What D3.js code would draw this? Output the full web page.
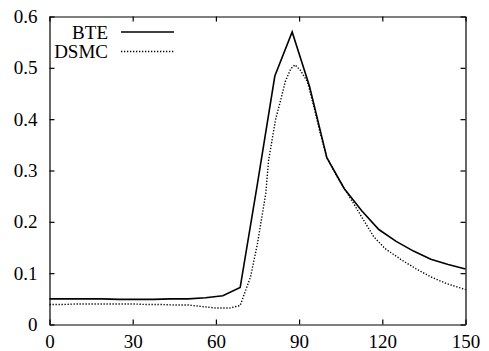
<!DOCTYPE html>
<html>
<head>
<meta charset="utf-8">
<script src="https://cdn.jsdelivr.net/npm/d3@7"></script>
</head>
<body style="margin:0">
<svg width="489" height="351"></svg>
<script>
// BTE: coarse grid, every 6.25
const bteX = [0, 6.25, 12.5, 18.75, 25, 31.25, 37.5, 43.75, 50, 56.25, 62.5, 68.75, 75,
  81.25, 87.5, 93.75, 100, 106.25, 112.5, 118.75, 125, 131.25, 137.5, 143.75, 150]
const bteY = [0.050, 0.050, 0.050, 0.050, 0.049, 0.049, 0.049, 0.050, 0.050, 0.052, 0.056, 0.072, 0.275,
  0.484, 0.570, 0.464, 0.325, 0.265, 0.222, 0.185, 0.162, 0.143, 0.127, 0.117, 0.108]

// DSMC: finer sampling
const dsmcX = [0, 5, 10, 15, 20, 25, 30, 35, 40, 45, 50, 55, 60, 65, 68.75, 72.5, 75, 78, 79,
  81.5, 83.5, 85, 87, 88.5, 90.5, 93, 95.3, 97.5, 100, 104, 108.5, 112.5, 116.9, 121, 126.6,
  132, 137.4, 143, 150]
const dsmcY = [0.039, 0.039, 0.040, 0.040, 0.040, 0.040, 0.040, 0.039, 0.039, 0.038, 0.038, 0.035, 0.032, 0.032, 0.037, 0.093, 0.158, 0.256, 0.32,
  0.399, 0.44, 0.473, 0.498, 0.506, 0.495, 0.473, 0.425, 0.375, 0.325, 0.285, 0.246, 0.21, 0.171, 0.148, 0.127,
  0.109, 0.093, 0.08, 0.068]

const xTicks = [0, 30, 60, 90, 120, 150]
const yTicks = [0, 0.1, 0.2, 0.3, 0.4, 0.5, 0.6]
const seriesNames = ["BTE", "DSMC"]

const margin = {top: 16.5, right: 24, bottom: 26.5, left: 49}
const W = 489 - margin.left - margin.right
const H = 351 - margin.top - margin.bottom

const svg = d3.select("svg")
const g = svg.append("g").attr("transform", `translate(${margin.left + 0.5},${margin.top})`)

const x = d3.scaleLinear().domain([0, 150]).range([0, W])
const y = d3.scaleLinear().domain([0, 0.6]).range([H, 0])

const fmtY = d => d === 0 ? "0" : d3.format(".1f")(d)

// axes, gnuplot style: inward ticks mirrored on all sides
g.append("g").attr("transform", `translate(0,${H})`)
  .call(d3.axisBottom(x).tickValues(xTicks).tickSizeInner(-5).tickSizeOuter(0).tickPadding(10))
g.append("g")
  .call(d3.axisLeft(y).tickValues(yTicks).tickFormat(fmtY).tickSizeInner(-5).tickSizeOuter(0).tickPadding(12))
g.append("g")
  .call(d3.axisTop(x).tickValues(xTicks).tickFormat("").tickSizeInner(-5).tickSizeOuter(0))
g.append("g").attr("transform", `translate(${W},0)`)
  .call(d3.axisRight(y).tickValues(yTicks).tickFormat("").tickSizeInner(-5).tickSizeOuter(0))

g.selectAll("g").attr("font-family", null).attr("font-size", null)
g.selectAll(".domain, .tick line").attr("stroke", "#000").attr("stroke-width", 1.2)
g.selectAll(".tick text")
  .attr("fill", "#000")
  .attr("font-size", 19)
  .style("font-family", '"Liberation Serif"')

const line = d3.line().x(d => x(d[0])).y(d => y(d[1]))

g.append("path")
  .datum(d3.zip(bteX, bteY))
  .attr("fill", "none").attr("stroke", "#000").attr("stroke-width", 1.6)
  .attr("d", line)

g.append("path")
  .datum(d3.zip(dsmcX, dsmcY))
  .attr("fill", "none").attr("stroke", "#000").attr("stroke-width", 1.4)
  .attr("stroke-dasharray", "1.3,1.7")
  .attr("d", line)

// legend
const leg = svg.append("g")
const dash = [null, "1.3,1.7"]
seriesNames.forEach((name, i) => {
  const yy = 32 + i * 19.5
  leg.append("text")
    .attr("x", 108).attr("y", yy).attr("dy", "0.35em")
    .attr("text-anchor", "end")
    .attr("font-size", 19)
    .style("font-family", '"Liberation Serif"')
    .text(name)
  leg.append("line")
    .attr("x1", 121).attr("x2", 174).attr("y1", yy).attr("y2", yy)
    .attr("stroke", "#000").attr("stroke-width", i ? 1.4 : 1.6)
    .attr("stroke-dasharray", dash[i])
})
</script>
</body>
</html>
